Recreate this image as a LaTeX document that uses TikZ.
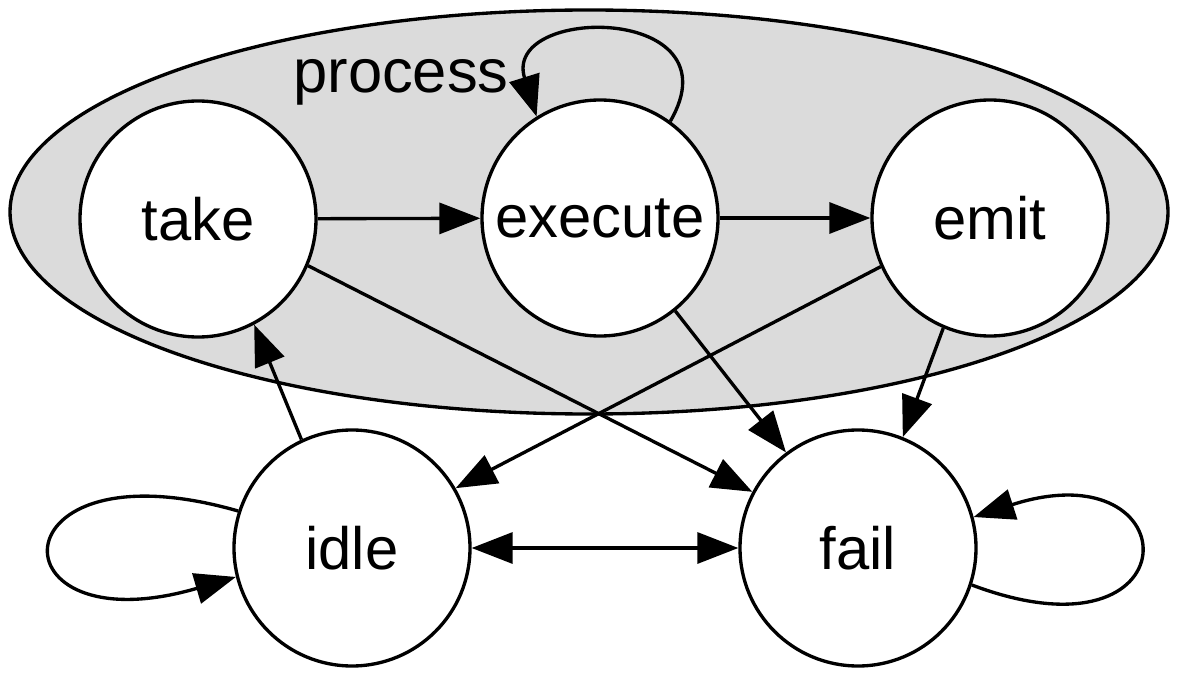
\documentclass[tikz,border=0pt]{standalone}
\usepackage{fontspec}
\setmainfont{Liberation Sans}
\usetikzlibrary{arrows.meta}
\definecolor{clustergray}{gray}{0.86}
\begin{document}
\begin{tikzpicture}[line width=1.9pt,
        state/.style={circle, draw, fill=white, minimum size=4.72cm, inner sep=0pt, font=\fontsize{34}{40}\selectfont},
        edge/.style={-{Triangle[length=0.82cm, width=0.62cm]}}]
            \useasboundingbox (0, 0) rectangle (23.58, 13.5);
            \draw[fill=clustergray] (11.78, 9.26) ellipse (11.58 and 4.04);
            \node[font=\fontsize{35}{40}\selectfont] (process) at (8.02, 11.86) {process};
            \node[state] (take) at (3.96, 9.12) {take};
            \node[state] (execute) at (12.0, 9.14) {execute};
            \node[state] (emit) at (19.8, 9.14) {emit};
            \node[state] (idle) at (7.04, 2.54) {idle};
            \node[state] (fail) at (17.16, 2.54) {fail};
            \draw[edge] (take) -- (execute);
            \draw[edge] (execute) -- (emit);
            \draw[edge] (execute.54) .. controls +(1.36, 2.34) and +(-0.7, 2.24) .. (execute.122);
            \draw[edge] (take.-23) -- (fail.152);
            \draw[edge] (emit.204) -- (idle.30);
            \draw[edge] (execute.-51) -- (fail.127);
            \draw[edge] (emit.-113) -- (fail.68);
            \draw[edge] (idle.115) -- (take.-62);
            \draw[{Triangle[length=0.82cm, width=0.62cm]}-{Triangle[length=0.82cm, width=0.62cm]}] (idle) -- (fail);
            \draw[edge] (idle.162) .. controls +(-4.92, 1.42) and +(-4.92, -1.44) .. (idle.194);
            \draw[edge] (fail.-18) .. controls +(4.46, -1.68) and +(4.36, 1.4) .. (fail.15);
        \end{tikzpicture}
\end{document}
